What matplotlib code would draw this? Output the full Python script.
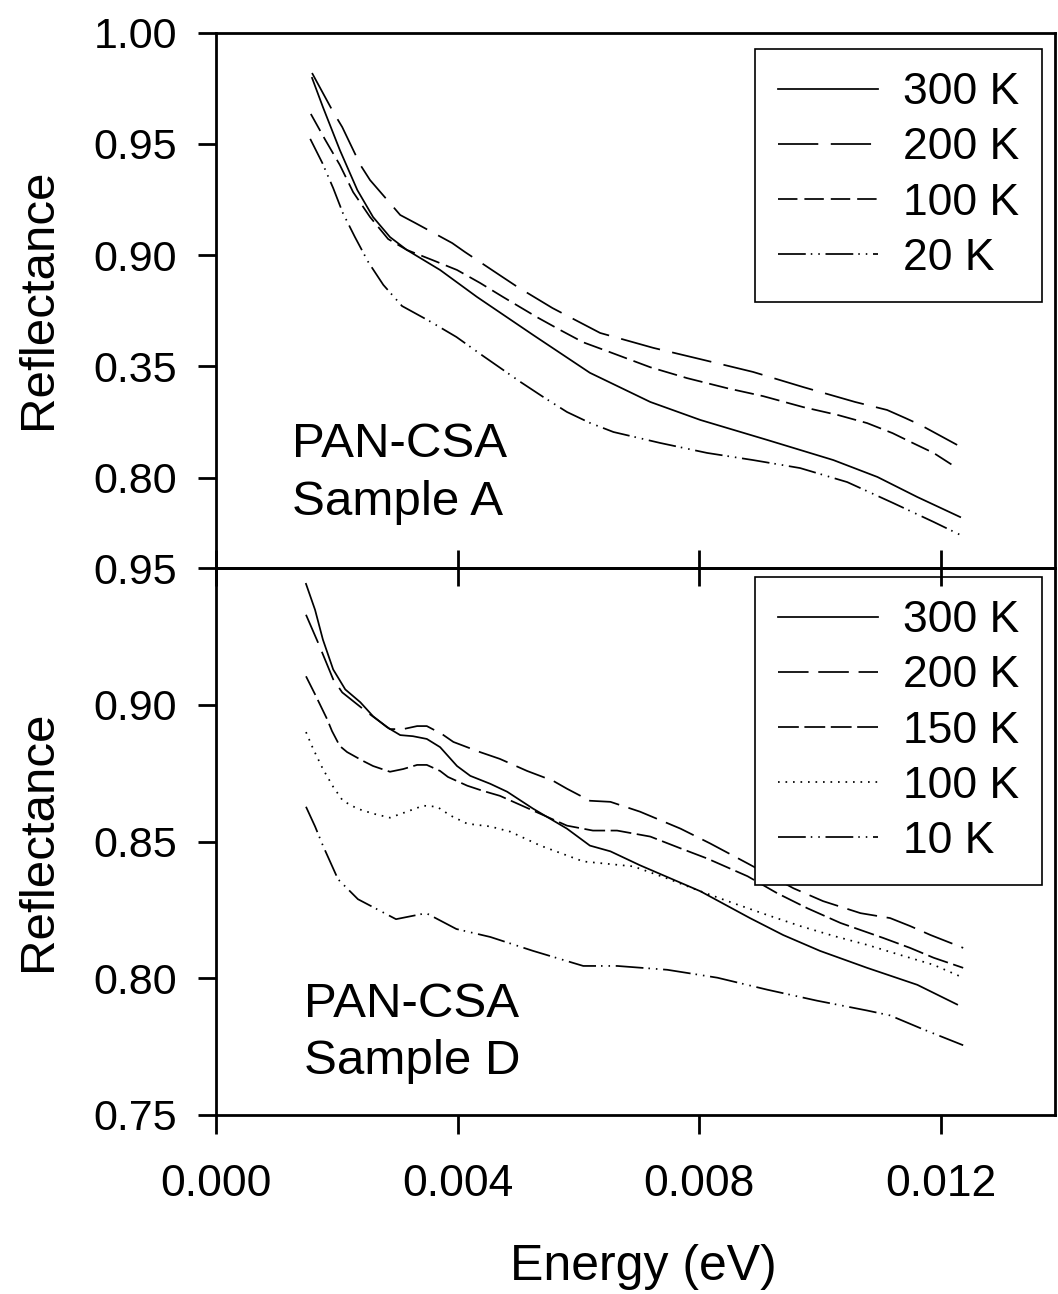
import matplotlib
matplotlib.use("Agg")
import matplotlib.pyplot as plt

plt.rcParams['font.family'] = ['Liberation Sans', 'DejaVu Sans']
plt.rcParams['lines.scale_dashes'] = False

# ---------------- data: Sample A (top panel) ----------------
a300_E = [0.00159, 0.00177, 0.00205, 0.00234, 0.00260, 0.00288, 0.00316, 0.00371, 0.00432,
          0.00525, 0.00619, 0.00719, 0.00802, 0.00913, 0.01022, 0.01095, 0.01161, 0.01232]
a300_R = [0.9796, 0.9665, 0.9472, 0.9292, 0.9171, 0.9081, 0.9023, 0.8933, 0.8812,
          0.8641, 0.8471, 0.8340, 0.8259, 0.8169, 0.8079, 0.8003, 0.7913, 0.7823]

a200_E = [0.00159, 0.00194, 0.00209, 0.00239, 0.00255, 0.00305, 0.00330, 0.00391, 0.00412,
          0.00474, 0.00499, 0.00557, 0.00636, 0.00724, 0.00807, 0.00889, 0.00972, 0.01058,
          0.01111, 0.01141, 0.01166, 0.01227]
a200_R = [0.9818, 0.9643, 0.9575, 0.9405, 0.9337, 0.9180, 0.9144, 0.9054, 0.9014,
          0.8902, 0.8857, 0.8762, 0.8650, 0.8583, 0.8529, 0.8475, 0.8407, 0.8340,
          0.8304, 0.8268, 0.8237, 0.8147]

a100_E = [0.00157, 0.00181, 0.00205, 0.00227, 0.00255, 0.00285, 0.00316, 0.00358, 0.00399,
          0.00437, 0.00475, 0.00532, 0.00570, 0.00608, 0.00653, 0.00719, 0.00780, 0.00846,
          0.00906, 0.00972, 0.01030, 0.01078, 0.01120, 0.01154, 0.01188, 0.01224]
a100_R = [0.9634, 0.9517, 0.9405, 0.9283, 0.9171, 0.9072, 0.9023, 0.8978, 0.8933,
          0.8875, 0.8812, 0.8720, 0.8663, 0.8608, 0.8563, 0.8496, 0.8447, 0.8402,
          0.8366, 0.8317, 0.8281, 0.8245, 0.8200, 0.8155, 0.8111, 0.8048]

a20_E = [0.00156, 0.00176, 0.00194, 0.00210, 0.00230, 0.00252, 0.00277, 0.00308, 0.00353,
         0.00398, 0.00442, 0.00504, 0.00542, 0.00581, 0.00619, 0.00658, 0.00735, 0.00813,
         0.00889, 0.00967, 0.01045, 0.01121, 0.01188, 0.01232]
a20_R = [0.9522, 0.9414, 0.9301, 0.9189, 0.9081, 0.8969, 0.8866, 0.8771, 0.8704,
         0.8632, 0.8547, 0.8430, 0.8362, 0.8295, 0.8246, 0.8205, 0.8156, 0.8111,
         0.8079, 0.8043, 0.7980, 0.7886, 0.7801, 0.7743]

# ---------------- data: Sample D (bottom panel) ----------------
d300_E = [0.00149, 0.00164, 0.00177, 0.00194, 0.00214, 0.00239, 0.00260, 0.00283, 0.00305,
          0.00326, 0.00349, 0.00371, 0.00399, 0.00421, 0.00454, 0.00482, 0.00525, 0.00581,
          0.00619, 0.00653, 0.00702, 0.00802, 0.00884, 0.00939, 0.01000, 0.01078, 0.01161,
          0.01227]
d300_R = [0.9442, 0.9347, 0.9238, 0.9129, 0.9056, 0.9009, 0.8958, 0.8918, 0.8889,
          0.8885, 0.8875, 0.8845, 0.8776, 0.8740, 0.8711, 0.8682, 0.8620, 0.8547,
          0.8485, 0.8464, 0.8413, 0.8318, 0.8220, 0.8158, 0.8100, 0.8038, 0.7976,
          0.7904]

d200_E = [0.00149, 0.00169, 0.00194, 0.00209, 0.00250, 0.00288, 0.00310, 0.00333, 0.00349,
          0.00374, 0.00393, 0.00437, 0.00470, 0.00515, 0.00558, 0.00581, 0.00619, 0.00653,
          0.00702, 0.00769, 0.00818, 0.00880, 0.00956, 0.01005, 0.01067, 0.01116, 0.01149,
          0.01183, 0.01237]
d200_R = [0.9329, 0.9227, 0.9093, 0.9045, 0.8973, 0.8911, 0.8911, 0.8922, 0.8922,
          0.8893, 0.8864, 0.8827, 0.8802, 0.8758, 0.8722, 0.8693, 0.8649, 0.8645,
          0.8609, 0.8547, 0.8493, 0.8420, 0.8329, 0.8282, 0.8238, 0.8220, 0.8191,
          0.8158, 0.8111]

d150_E = [0.00149, 0.00164, 0.00184, 0.00192, 0.00205, 0.00217, 0.00243, 0.00260, 0.00288,
          0.00310, 0.00333, 0.00349, 0.00371, 0.00384, 0.00416, 0.00442, 0.00470, 0.00525,
          0.00581, 0.00624, 0.00664, 0.00719, 0.00769, 0.00813, 0.00880, 0.00929, 0.00979,
          0.01034, 0.01105, 0.01149, 0.01188, 0.01237]
d150_R = [0.9104, 0.9038, 0.8947, 0.8904, 0.8849, 0.8827, 0.8795, 0.8776, 0.8755,
          0.8765, 0.8780, 0.8780, 0.8758, 0.8736, 0.8704, 0.8685, 0.8667, 0.8613,
          0.8558, 0.8540, 0.8540, 0.8518, 0.8475, 0.8438, 0.8373, 0.8311, 0.8256,
          0.8202, 0.8147, 0.8111, 0.8075, 0.8038]

d100_E = [0.00149, 0.00161, 0.00177, 0.00194, 0.00210, 0.00234, 0.00260, 0.00288, 0.00316,
          0.00343, 0.00366, 0.00388, 0.00416, 0.00454, 0.00487, 0.00537, 0.00608, 0.00691,
          0.00747, 0.00802, 0.00856, 0.00913, 0.00967, 0.01022, 0.01078, 0.01133, 0.01188,
          0.01237]
d100_R = [0.8900, 0.8838, 0.8765, 0.8700, 0.8649, 0.8620, 0.8602, 0.8587, 0.8609,
          0.8631, 0.8627, 0.8595, 0.8565, 0.8555, 0.8536, 0.8485, 0.8427, 0.8409,
          0.8365, 0.8318, 0.8275, 0.8231, 0.8191, 0.8155, 0.8122, 0.8085, 0.8049,
          0.8002]

d10_E = [0.00149, 0.00164, 0.00177, 0.00202, 0.00235, 0.00298, 0.00348, 0.00398, 0.00454,
         0.00525, 0.00608, 0.00664, 0.00747, 0.00830, 0.00913, 0.00995, 0.01078, 0.01116,
         0.01171, 0.01237]
d10_R = [0.8627, 0.8555, 0.8485, 0.8362, 0.8289, 0.8216, 0.8238, 0.8180, 0.8151,
         0.8100, 0.8045, 0.8045, 0.8031, 0.8002, 0.7958, 0.7918, 0.7882, 0.7864,
         0.7813, 0.7755]

top_labels = ["300 K", "200 K", "100 K", "20 K"]
bot_labels = ["300 K", "200 K", "150 K", "100 K", "10 K"]

x_ticks = [0.000, 0.004, 0.008, 0.012]
x_ticklabels = ["0.000", "0.004", "0.008", "0.012"]
top_yticks = [1.00, 0.95, 0.90, 0.85, 0.80]
top_yticklabels = ["1.00", "0.95", "0.90", "0.35", "0.80"]
bot_yticks = [0.95, 0.90, 0.85, 0.80, 0.75]
bot_yticklabels = ["0.95", "0.90", "0.85", "0.80", "0.75"]

# ---------------- figure ----------------
W, H = 1058, 1294
fig = plt.figure(figsize=(W / 100, H / 100), dpi=100)

def fx(px):
    return px / W

def fy(py):
    return 1 - py / H

L, R = 216, 1055
ax1 = fig.add_axes([fx(L), fy(568), fx(R) - fx(L), fy(32.5) - fy(568)])
ax2 = fig.add_axes([fx(L), fy(1115), fx(R) - fx(L), fy(568) - fy(1115)])
ax2.set_facecolor('none')
ax1.set_zorder(2)
ax1.set_facecolor('none')

LW = 1.25
DDOT = (0, (20, 3.6, 1.1, 4.3, 1.1, 4.1))
top_styles = ['-', (0, (29, 9)), (0, (14, 5)), DDOT]
bot_styles = ['-', (0, (22, 7)), (0, (15, 4)), (0, (1.2, 4.2)), DDOT]

top_series = [(a300_E, a300_R), (a200_E, a200_R), (a100_E, a100_R), (a20_E, a20_R)]
bot_series = [(d300_E, d300_R), (d200_E, d200_R), (d150_E, d150_R),
              (d100_E, d100_R), (d10_E, d10_R)]

for (e, r), ls, lab in zip(top_series, top_styles, top_labels):
    ax1.plot(e, r, color='black', lw=LW, ls=ls, label=lab)
for (e, r), ls, lab in zip(bot_series, bot_styles, bot_labels):
    ax2.plot(e, r, color='black', lw=LW, ls=ls, label=lab)

XMAX = 0.01389
for ax in (ax1, ax2):
    ax.set_xlim(0, XMAX)
    for s in ax.spines.values():
        s.set_linewidth(2.0)

ax1.set_ylim(0.7594, 1.00)
ax2.set_ylim(0.75, 0.95)

ax1.set_yticks(top_yticks)
ax1.set_yticklabels(top_yticklabels)
ax2.set_yticks(bot_yticks)
ax2.set_yticklabels(bot_yticklabels)

ax1.set_xticks(x_ticks)
ax1.tick_params(axis='x', direction='inout', length=26, width=2.0, labelbottom=False)
ax2.set_xticks(x_ticks)
ax2.set_xticklabels(x_ticklabels)
ax2.tick_params(axis='x', direction='out', length=14, width=2.0, pad=21, labelsize=32)
for ax in (ax1, ax2):
    ax.tick_params(axis='y', direction='out', length=13, width=2.0, pad=15, labelsize=31)

# legends
leg_kw = dict(fontsize=32, handlelength=2.25, handletextpad=0.55, labelspacing=0.32,
              borderpad=0.52, fancybox=False, framealpha=1, edgecolor='black',
              loc='upper right', bbox_transform=fig.transFigure, borderaxespad=0)
lg1 = ax1.legend(bbox_to_anchor=(fx(1042), fy(49)), **leg_kw)
lg2 = ax2.legend(bbox_to_anchor=(fx(1042), fy(577)), **leg_kw)
for lg in (lg1, lg2):
    lg.get_frame().set_linewidth(1.2)

# annotations
fig.text(fx(292), fy(457), "PAN-CSA", fontsize=35.5, ha='left', va='baseline')
fig.text(fx(292), fy(515), "Sample A", fontsize=35.5, ha='left', va='baseline')
fig.text(fx(304), fy(1017), "PAN-CSA", fontsize=35.5, ha='left', va='baseline')
fig.text(fx(304), fy(1074), "Sample D", fontsize=35.5, ha='left', va='baseline')

# axis labels
fig.text(fx(39), fy(298.5), "Reflectance", fontsize=35.5, rotation=90, ha='center', va='center')
fig.text(fx(39), fy(841), "Reflectance", fontsize=35.5, rotation=90, ha='center', va='center')
fig.text(fx(643), fy(1280), "Energy (eV)", fontsize=36, ha='center', va='baseline')

fig.savefig("out.png", dpi=100)
